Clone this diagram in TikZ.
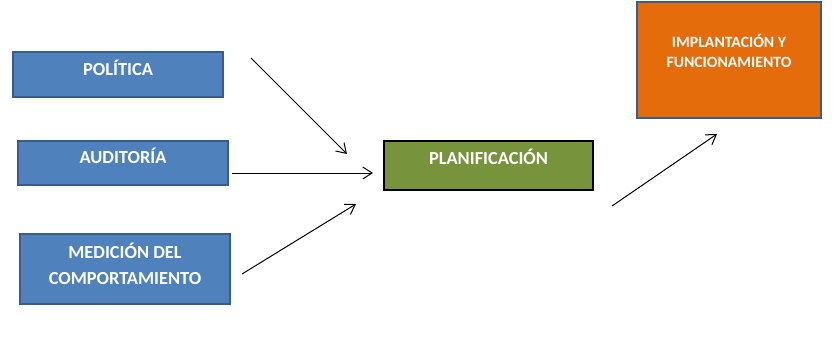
\documentclass[tikz,border=0pt]{standalone}
\usepackage{fontspec}
\setmainfont{Carlito}
\usetikzlibrary{arrows.meta}
\definecolor{boxblue}{HTML}{4F81BD}
\definecolor{boxedge}{HTML}{385D8A}
\definecolor{boxgreen}{HTML}{77933C}
\definecolor{boxorange}{HTML}{E46C0A}
\tikzset{
  box/.style={draw=boxedge, line width=1.5pt, fill=boxblue, inner sep=0pt},
  greenbox/.style={box, draw=black, fill=boxgreen},
  orangebox/.style={box, fill=boxorange},
  lbl/.style={text=white, font=\fontsize{13.8}{19.5}\selectfont\bfseries, inner sep=0pt, anchor=base},
  slbl/.style={text=white, font=\fontsize{11.8}{15}\selectfont\bfseries, inner sep=0pt, anchor=base},
  arr/.style={line width=0.75pt, -{Straight Barb[length=7pt,width=9pt,line width=0.75pt]}}
}
\begin{document}
\begin{tikzpicture}[x=0.75pt,y=-0.75pt]
\useasboundingbox (0,0) rectangle (837,336);
% boxes
\node[box, minimum width=157.5pt, minimum height=33.75pt] (pol) at (118,74.5) {};
\node[box, minimum width=157.5pt, minimum height=33pt] (aud) at (123,163) {};
\node[box, minimum width=157.5pt, minimum height=52.5pt] (med) at (125,269) {};
\node[greenbox, minimum width=156.75pt, minimum height=36.75pt] (plan) at (488.5,165.5) {};
\node[orangebox, minimum width=138pt, minimum height=87pt] (impl) at (729,60) {};
% labels
\node[lbl] (polt) at (118,75) {POLÍTICA};
\node[lbl] (audt) at (123,163) {AUDITORÍA};
\node[lbl] (medt1) at (125,258) {MEDICIÓN DEL};
\node[lbl] (medt2) at (125,284) {COMPORTAMIENTO};
\node[lbl] (plant) at (488.5,164) {PLANIFICACIÓN};
\node[slbl] (implt1) at (729,47) {IMPLANTACIÓN Y};
\node[slbl] (implt2) at (729,67) {FUNCIONAMIENTO};
% connector ends
\coordinate (a1s) at (251,58);
\coordinate (a1e) at (347,154);
\coordinate (a2s) at (232,173);
\coordinate (a2e) at (373,173);
\coordinate (a3s) at (242,274);
\coordinate (a3e) at (356,204);
\coordinate (a4s) at (612,206);
\coordinate (a4e) at (717,134);
\draw[arr] (a1s) -- (a1e);
\draw[arr] (a2s) -- (a2e);
\draw[arr] (a3s) -- (a3e);
\draw[arr] (a4s) -- (a4e);
\end{tikzpicture}
\end{document}
